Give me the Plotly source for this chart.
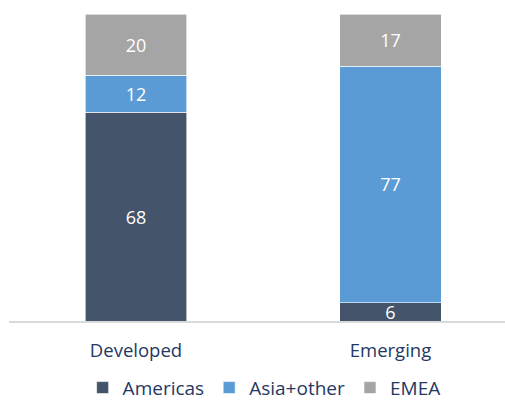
import plotly.graph_objects as go

categories = ["Developed", "Emerging"]
americas = [68, 6]
asia_other = [12, 77]
emea = [20, 17]

series = [("Americas", americas, "#44546a"),
          ("Asia+other", asia_other, "#5b9bd5"),
          ("EMEA", emea, "#a5a5a5")]

fig = go.Figure()
for name, vals, col in series:
    fig.add_trace(go.Bar(
        x=categories, y=vals, name=name,
        marker=dict(color=col, line=dict(color="white", width=0.6)),
        text=[str(v) for v in vals], textposition="inside",
        insidetextanchor="middle", textangle=0, constraintext="none",
        textfont=dict(color="white", size=18, family="Open Sans"),
        width=0.40,
    ))

fig.update_layout(
    barmode="stack",
    width=505, height=406,
    margin=dict(l=9, r=0, t=14, b=84.5, autoexpand=False),
    paper_bgcolor="white", plot_bgcolor="white",
    font=dict(family="Open Sans", color="#1f3864", size=16),
    uniformtext=dict(mode="show", minsize=8),
    showlegend=True,
    legend=dict(orientation="h", x=0.523, xanchor="center", xref="container",
                y=0.045, yanchor="middle", yref="container",
                font=dict(size=19, color="#1f3864"), itemwidth=30,
                traceorder="normal"),
)
fig.update_xaxes(range=[-0.499, 1.45], showline=True, linecolor="#d9d9d9", linewidth=1.5,
                 ticks="outside", ticklen=12, tickcolor="rgba(0,0,0,0)",
                 tickfont=dict(size=18.5, color="#1f3864"), showgrid=False, automargin=False)
fig.update_yaxes(range=[0, 100], visible=False, showgrid=False, automargin=False)

fig.write_html("out.html")
